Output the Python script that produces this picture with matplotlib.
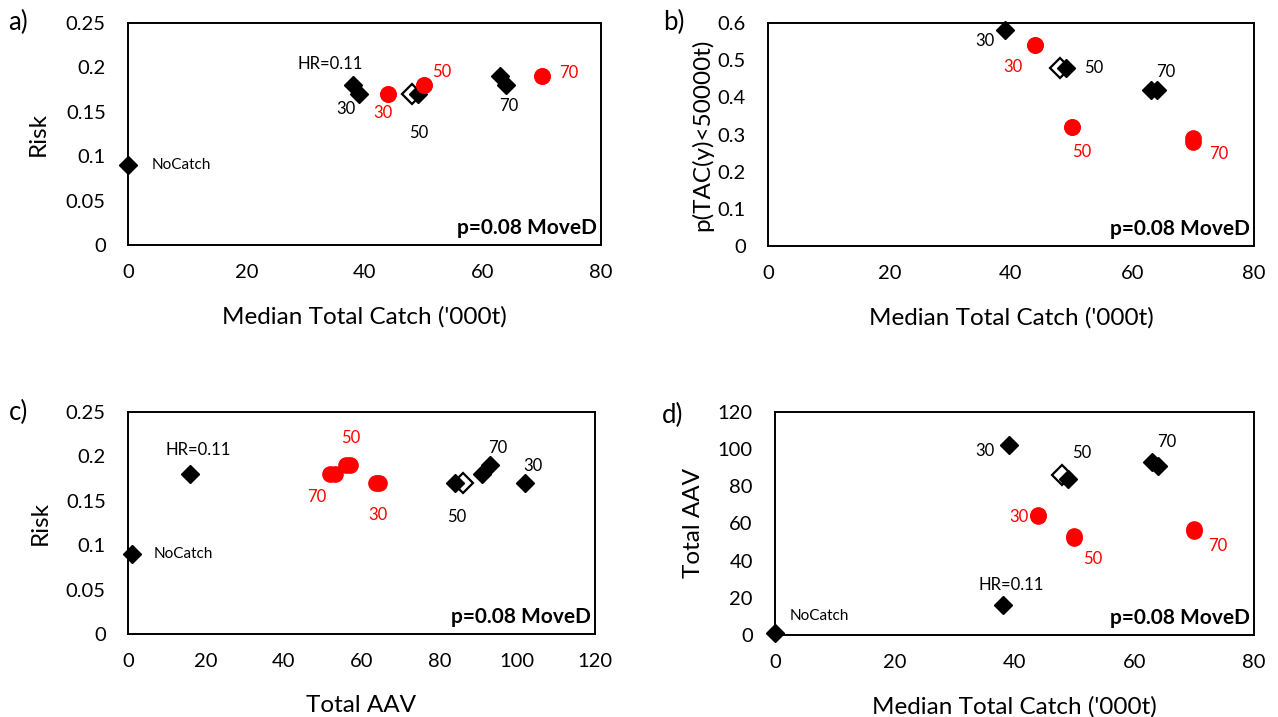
import matplotlib.pyplot as plt
from matplotlib.ticker import FuncFormatter

plt.rcParams['font.family'] = ['Lato', 'DejaVu Sans']

# management procedures, p=0.08 MoveD
# filled black diamonds
blk_catch = [39, 49, 63, 64]
blk_risk = [0.17, 0.17, 0.19, 0.18]
blk_ptac = [0.58, 0.48, 0.42, 0.42]
blk_aav = [102, 84, 93, 91]

# open diamond
open_catch = [48]
open_risk = [0.17]
open_ptac = [0.48]
open_aav = [86]

# red circles
red_catch = [44, 44, 50, 50, 70, 70]
red_risk = [0.17, 0.17, 0.18, 0.18, 0.19, 0.19]
red_ptac = [0.54, 0.54, 0.32, 0.32, 0.29, 0.28]
red_aav = [63.8, 64.4, 52, 53.2, 56, 57]

# reference runs
ref_catch = [0, 38]
ref_risk = [0.09, 0.18]
ref_aav = [1, 16]
ref_names = ['NoCatch', 'HR=0.11']

catch_ticks = [0, 20, 40, 60, 80]
risk_ticks = [0, 0.05, 0.1, 0.15, 0.2, 0.25]
ptac_ticks = [0, 0.1, 0.2, 0.3, 0.4, 0.5, 0.6]
aav_ticks = [0, 20, 40, 60, 80, 100, 120]

W, H = 1278, 717
fig = plt.figure(figsize=(W / 100, H / 100), dpi=100)


def make_axes(l, t, r, b):
    ax = fig.add_axes([l / W, 1 - b / H, (r - l) / W, (b - t) / H])
    for s in ax.spines.values():
        s.set_linewidth(1.4)
    ax.tick_params(length=0, labelsize=14.5)
    ax.tick_params(axis='x', pad=14)
    ax.tick_params(axis='y', pad=16)
    return ax


def draw(ax, x, y, labels):
    # x, y: dicts of series -> values
    if 'ref' in x:
        ax.plot(x['ref'], y['ref'], 'D', color='black', ms=8.7, clip_on=False, zorder=3)
    ax.plot(x['open'], y['open'], 'D', mfc='white', mec='black', mew=1.6, ms=10.5, clip_on=False, zorder=3)
    ax.plot(x['blk'], y['blk'], 'D', color='black', ms=8.7, clip_on=False, zorder=4)
    ax.plot(x['red'], y['red'], 'o', color='#ff0000', ms=11, clip_on=False, zorder=5)
    for ser, i, txt, dx, dy in labels:
        col = '#ff0000' if ser == 'red' else 'black'
        ha = 'left' if txt == 'NoCatch' else 'center'
        fs = 11 if txt == 'NoCatch' else 12
        ax.annotate(txt, (x[ser][i], y[ser][i]), xytext=(dx, dy), textcoords='offset pixels',
                    ha=ha, va='center', color=col, fontsize=fs, zorder=6)
    ax.text(0.992, 0.03, 'p=0.08 MoveD', transform=ax.transAxes, ha='right', va='bottom',
            fontsize=15, fontweight='bold')


fmt = FuncFormatter(lambda v, p: f'{v:g}')


def finish(ax, xt, yt, xlab, ylab, box, ylab_x, letter, letter_xy):
    l, t, r, b = box
    ax.set_xlim(xt[0], xt[-1])
    ax.set_ylim(yt[0], yt[-1])
    ax.set_xticks(xt)
    ax.set_yticks(yt)
    ax.xaxis.set_major_formatter(fmt)
    ax.yaxis.set_major_formatter(fmt)
    ax.set_xlabel(xlab, fontsize=17.5, va='center')
    ax.xaxis.set_label_coords(0.5, -72 / (b - t))
    ax.set_ylabel(ylab, fontsize=17.5, va='center')
    ax.yaxis.set_label_coords((ylab_x - l) / (r - l), 0.5)
    fig.text(letter_xy[0] / W, 1 - letter_xy[1] / H, letter, fontsize=18.5, ha='center', va='center')


# a) catch vs risk
box_a = (128, 23, 601, 245)
ax1 = make_axes(*box_a)
draw(ax1,
     {'ref': ref_catch, 'blk': blk_catch, 'open': open_catch, 'red': red_catch},
     {'ref': ref_risk, 'blk': blk_risk, 'open': open_risk, 'red': red_risk},
     [('ref', 0, ref_names[0], 24, 0), ('ref', 1, ref_names[1], -22, 21),
      ('blk', 0, '30', -13, -15), ('blk', 1, '50', 1, -39), ('blk', 3, '70', 2, -21),
      ('red', 0, '30', -5, -19), ('red', 2, '50', 18, 13), ('red', 4, '70', 27, 3)])
finish(ax1, catch_ticks, risk_ticks, "Median Total Catch ('000t)", 'Risk', box_a, 38, 'a)', (18, 22))

# b) catch vs p(TAC<50000t)
box_b = (768, 23, 1254, 246)
ax2 = make_axes(*box_b)
draw(ax2,
     {'blk': blk_catch, 'open': open_catch, 'red': red_catch},
     {'blk': blk_ptac, 'open': open_ptac, 'red': red_ptac},
     [('blk', 0, '30', -20, -11), ('blk', 1, '50', 28, 0), ('blk', 3, '70', 9, 18),
      ('red', 0, '30', -22, -22), ('red', 2, '50', 10, -25), ('red', 5, '70', 26, -12)])
finish(ax2, catch_ticks, ptac_ticks, "Median Total Catch ('000t)", 'p(TAC(y)<50000t)', box_b, 702, 'b)', (674, 22))

# c) AAV vs risk
box_c = (128, 412, 595, 634)
ax3 = make_axes(*box_c)
draw(ax3,
     {'ref': ref_aav, 'blk': blk_aav, 'open': open_aav, 'red': red_aav},
     {'ref': ref_risk, 'blk': blk_risk, 'open': open_risk, 'red': red_risk},
     [('ref', 0, ref_names[0], 22, 0), ('ref', 1, ref_names[1], 8, 24),
      ('blk', 0, '30', 8, 17), ('blk', 1, '50', 2, -34), ('blk', 2, '70', 8, 17),
      ('red', 0, '30', 2, -32), ('red', 4, '50', 5, 27), ('red', 2, '70', -14, -23)])
finish(ax3, aav_ticks, risk_ticks, 'Total AAV', 'Risk', box_c, 40, 'c)', (18, 412))

# d) catch vs AAV
box_d = (775, 412, 1254, 635)
ax4 = make_axes(*box_d)
draw(ax4,
     {'ref': ref_catch, 'blk': blk_catch, 'open': open_catch, 'red': red_catch},
     {'ref': ref_aav, 'blk': blk_aav, 'open': open_aav, 'red': red_aav},
     [('ref', 0, ref_names[0], 15, 17), ('ref', 1, ref_names[1], 9, 20),
      ('blk', 0, '30', -24, -6), ('blk', 1, '50', 13, 26), ('blk', 3, '70', 9, 24),
      ('red', 0, '30', -20, -1), ('red', 2, '50', 18, -21), ('red', 4, '70', 24, -15)])
finish(ax4, catch_ticks, aav_ticks, "Median Total Catch ('000t)", 'Total AAV', box_d, 693, 'd)', (673, 415))

fig.savefig('out.png', dpi=100)
